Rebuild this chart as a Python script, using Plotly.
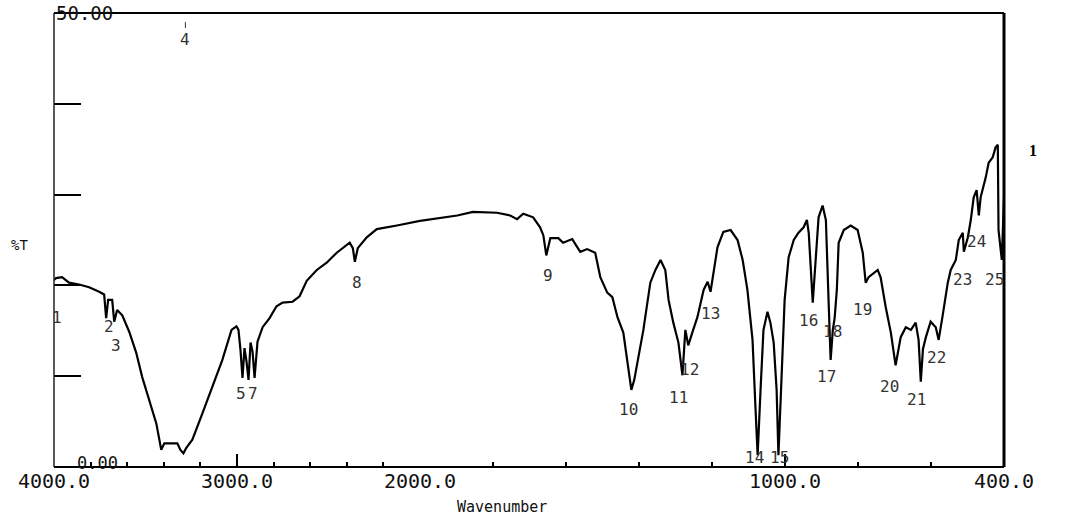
import plotly.graph_objects as go

# ---------------- data ----------------
# 4000-2000 cm-1 section (compressed scale)
wn_left = [4000, 3989, 3956, 3918, 3863, 3808, 3753, 3726, 3715, 3704, 3682, 3671,
           3655, 3627, 3589, 3551, 3518, 3480, 3441, 3414, 3397, 3359, 3326, 3310,
           3293, 3277, 3244, 3189, 3134, 3080, 3030, 3003, 2992, 2981, 2970, 2959,
           2948, 2937, 2926, 2915, 2904, 2888, 2860, 2822, 2784, 2751, 2696, 2658,
           2619, 2564, 2510, 2455, 2384, 2367, 2356, 2340, 2291, 2236, 2126, 2017, 2000]
t_left = [20.6, 20.8, 20.9, 20.3, 20.1, 19.8, 19.3, 19.0, 16.4, 18.4, 18.4, 16.0,
          17.3, 16.7, 14.9, 12.6, 9.9, 7.4, 4.8, 1.9, 2.6, 2.6, 2.6, 1.9,
          1.5, 2.1, 3.0, 5.9, 8.8, 11.8, 15.1, 15.5, 15.1, 12.9, 9.8, 13.1,
          11.6, 9.6, 13.7, 12.7, 9.8, 13.8, 15.4, 16.4, 17.7, 18.1, 18.2, 18.8,
          20.5, 21.7, 22.5, 23.6, 24.7, 24.1, 22.6, 24.1, 25.3, 26.2, 26.6, 27.0, 27.1]

# 2000-400 cm-1 section (expanded scale)
wn_right = [2000, 1953, 1898, 1855, 1789, 1753, 1734, 1717, 1690, 1671, 1662, 1654,
            1643, 1621, 1608, 1583, 1561, 1542, 1520, 1506, 1487, 1473, 1459, 1443,
            1429, 1421, 1413, 1405, 1388, 1369, 1355, 1341, 1328, 1319, 1306, 1292,
            1281, 1273, 1265, 1254, 1240, 1223, 1212, 1204, 1196, 1185, 1169, 1149,
            1130, 1116, 1103, 1089, 1081, 1075, 1067, 1059, 1048, 1040, 1031, 1023,
            1018, 1009, 1001, 990, 976, 963, 949, 940, 935, 924, 916, 908,
            897, 888, 880, 875, 869, 864, 858, 853, 839, 820, 801, 787,
            779, 771, 746, 738, 724, 710, 697, 683, 669, 655, 642, 634,
            628, 622, 614, 601, 587, 579, 568, 554, 546, 532, 524, 513,
            510, 499, 491, 483, 475, 469, 464, 450, 442, 431, 423, 417,
            415, 406, 400]
t_right = [27.1, 27.4, 27.7, 28.1, 28.0, 27.7, 27.3, 27.9, 27.5, 26.4, 25.5, 23.3,
           25.2, 25.2, 24.7, 25.1, 23.7, 24.0, 23.6, 20.9, 19.2, 18.7, 16.5, 14.8,
           10.7, 8.5, 9.6, 11.5, 15.1, 20.3, 21.7, 22.8, 21.7, 18.4, 15.9, 13.7,
           10.1, 15.1, 13.4, 14.8, 16.5, 19.5, 20.4, 19.3, 21.4, 24.2, 25.9, 26.1,
           25.0, 22.8, 19.5, 14.0, 6.6, 1.3, 8.5, 15.1, 17.1, 15.9, 13.7, 8.5,
           1.3, 9.6, 18.4, 23.1, 25.0, 25.8, 26.4, 27.2, 25.8, 18.1, 23.1, 27.5,
           28.8, 27.2, 17.6, 11.8, 15.1, 16.4, 19.5, 24.7, 26.1, 26.6, 26.1, 23.6,
           20.3, 20.9, 21.7, 20.9, 17.6, 14.8, 11.2, 14.3, 15.4, 15.1, 15.9, 14.0,
           9.4, 13.0, 14.3, 16.0, 15.4, 14.0, 16.7, 20.3, 21.7, 22.8, 25.0, 25.8,
           23.7, 25.3, 27.2, 29.7, 30.5, 27.7, 29.7, 31.9, 33.5, 34.1, 35.2, 35.5,
           26.1, 22.8, 29.7]

# peak labels (text, wavenumber, %T of label position)
peak_text = ["1", "2", "3", "5", "7", "8", "9", "10", "11", "12", "13", "14", "15",
             "16", "17", "18", "19", "20", "21", "22", "23", "24", "25"]
peak_wn = [3984, 3699, 3660, 2980, 2912, 2345, 1649, 1429, 1292, 1262, 1204, 1083, 1016,
           935, 886, 869, 787, 713, 639, 584, 513, 475, 425]
peak_t = [16.5, 15.5, 13.4, 8.1, 8.1, 20.3, 21.1, 6.3, 7.7, 10.7, 16.9, 1.1, 1.1,
          16.1, 10.0, 14.9, 17.3, 8.9, 7.4, 12.1, 20.7, 24.8, 20.7]

label4_wn, label4_t = 3282, 49.0

x_major_left = [4000, 3000, 2000]
x_major_left_text = ["4000.0", "3000.0", "2000.0"]
x_minor_left = [3800, 3600, 3400, 3200, 2800, 2600, 2400, 2200]
x_major_right = [1000, 400]
x_major_right_text = ["1000.0", "400.0"]
x_minor_right = [1800, 1600, 1400, 1200, 800, 600]
y_ticks = [10, 20, 30, 40]

# ---------------- figure ----------------
W, H = 1065, 517
ML, MR, MT, MB = 54, 61, 13, 50
plot_w = W - ML - MR
split = (420 - ML) / plot_w  # 2000 cm-1 scale change position

mono = "DejaVu Sans Mono"
ink = "#111111"

fig = go.Figure()
fig.add_trace(go.Scatter(x=wn_left, y=t_left, mode="lines",
                         line=dict(color="black", width=2.2),
                         xaxis="x", yaxis="y", showlegend=False, hoverinfo="skip"))
fig.add_trace(go.Scatter(x=wn_right, y=t_right, mode="lines",
                         line=dict(color="black", width=2.2),
                         xaxis="x2", yaxis="y", showlegend=False, hoverinfo="skip"))

tick_common = dict(ticks="inside", tickcolor="black", tickwidth=1.5,
                   showgrid=False, zeroline=False, showline=False,
                   tickfont=dict(family=mono, size=20, color=ink))

fig.update_layout(
    width=W, height=H,
    margin=dict(l=ML, r=MR, t=MT, b=MB),
    paper_bgcolor="white", plot_bgcolor="white",
    xaxis=dict(domain=[0, split], range=[4000, 2000], anchor="y",
               tickmode="array", tickvals=x_major_left, ticktext=x_major_left_text,
               ticklen=13,
               minor=dict(tickmode="array", tickvals=x_minor_left, ticks="inside",
                          ticklen=5, tickcolor="black", tickwidth=1.5),
               **tick_common),
    xaxis2=dict(domain=[split, 1], range=[2000, 400], anchor="y",
                tickmode="array", tickvals=x_major_right, ticktext=x_major_right_text,
                ticklen=13,
                minor=dict(tickmode="array", tickvals=x_minor_right, ticks="inside",
                           ticklen=5, tickcolor="black", tickwidth=1.5),
                **tick_common),
    yaxis=dict(range=[0, 50], anchor="x", tickmode="array", tickvals=y_ticks,
               ticks="inside", ticklen=27, tickcolor="black", tickwidth=1.5,
               showticklabels=False, showgrid=False, zeroline=False, showline=False),
)

# frame
fig.add_shape(type="line", xref="paper", yref="paper", x0=0, x1=0, y0=0, y1=1,
              line=dict(color="#222", width=1.5))
fig.add_shape(type="line", xref="paper", yref="paper", x0=0, x1=1, y0=1, y1=1,
              line=dict(color="black", width=2))
fig.add_shape(type="line", xref="paper", yref="paper", x0=0, x1=1, y0=0, y1=0,
              line=dict(color="black", width=2))
fig.add_shape(type="line", xref="paper", yref="paper", x0=1, x1=1, y0=0, y1=1,
              line=dict(color="black", width=3))

# peak labels
for txt, w, t in zip(peak_text, peak_wn, peak_t):
    fig.add_annotation(x=w, y=t, xref="x" if w >= 2000 else "x2", yref="y",
                       text=txt, showarrow=False,
                       font=dict(family=mono, size=16, color="#333"))

fig.add_annotation(x=label4_wn, y=label4_t, xref="x", yref="y", text="4",
                   showarrow=True, arrowhead=0, arrowwidth=1, arrowcolor="#333",
                   ax=0, ay=17, font=dict(family=mono, size=16, color="#333"))

# static texts
fig.add_annotation(x=0, y=1, xref="paper", yref="paper", xanchor="left", yanchor="middle",
                   text="50.00", showarrow=False,
                   font=dict(family=mono, size=19, color=ink))
fig.add_annotation(x=0.022, y=0.008, xref="paper", yref="paper", xanchor="left",
                   yanchor="middle", text="0.00", showarrow=False,
                   font=dict(family=mono, size=17, color=ink))
fig.add_annotation(x=-0.036, y=0.49, xref="paper", yref="paper", xanchor="center",
                   yanchor="middle", text="%T", showarrow=False,
                   font=dict(family=mono, size=14, color=ink))
fig.add_annotation(x=0.472, y=-0.088, xref="paper", yref="paper", xanchor="center",
                   yanchor="middle", text="Wavenumber", showarrow=False,
                   font=dict(family=mono, size=15, color=ink))
fig.add_annotation(x=1.031, y=0.698, xref="paper", yref="paper", xanchor="center",
                   yanchor="middle", text="<b>1</b>", showarrow=False,
                   font=dict(family="Liberation Serif", size=16, color="black"))

fig.write_html("out.html")
